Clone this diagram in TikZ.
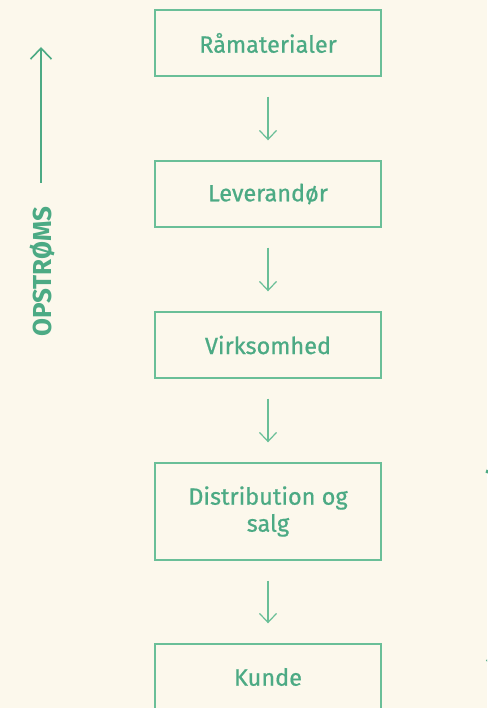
\documentclass[tikz,border=0pt]{standalone}
\usepackage{fontspec}
\setmainfont{Fira Sans}
\newfontfamily\medfont{Fira Sans}[FakeBold=0.7]
\usetikzlibrary{arrows.meta}
\definecolor{bg}{HTML}{FCF8EC}
\definecolor{txt}{HTML}{4CAA84}
\definecolor{edge}{HTML}{6ABF98}
\tikzset{
  stagebox/.style={draw=edge, line width=1.4pt, minimum width=226pt, align=center, text=txt, font=\medfont\fontsize{23.5}{27}\selectfont, inner sep=0pt},
  flow/.style={draw=edge, line width=1.2pt, -{Straight Barb[length=9pt,width=17pt,line width=1.2pt]}},
  sidearrow/.style={draw=txt, line width=1.6pt, -{Straight Barb[length=11pt,width=21pt,line width=1.6pt]}},
  sidelabel/.style={text=txt, font=\bfseries\fontsize{26}{26}\selectfont, inner sep=0pt}
}
\begin{document}
\begin{tikzpicture}[x=1pt,y=-1pt]
\fill[bg] (0,0) rectangle (487,708);
\useasboundingbox (0,0) rectangle (487,708);
\clip (0,0) rectangle (487,708);
\node[stagebox, minimum height=66pt] (b1) at (268,43) {Råmaterialer};
\node[stagebox, minimum height=66pt] (b2) at (268,194) {Leverandør};
\node[stagebox, minimum height=66pt] (b3) at (268,345) {Virksomhed};
\node[stagebox, minimum height=97pt] (b4) at (268,511.5) {Distribution og\\salg};
\node[stagebox, minimum height=66pt] (b5) at (268,677) {Kunde};
\draw[flow] ([yshift=-20pt]b1.south) -- ([yshift=20pt]b2.north);
\draw[flow] ([yshift=-20pt]b2.south) -- ([yshift=20pt]b3.north);
\draw[flow] ([yshift=-20pt]b3.south) -- ([yshift=20pt]b4.north);
\draw[flow] ([yshift=-20pt]b4.south) -- ([yshift=20pt]b5.north);
\node[sidelabel, rotate=90] (up) at (42,272) {OPSTRØMS};
\coordinate (upbot) at (41,183);
\coordinate (uptop) at (41,47);
\draw[sidearrow] (upbot) -- (uptop);
\node[sidelabel, rotate=-90] (down) at (499,447) {NEDSTRØMS};
\coordinate (downtop) at (497,535);
\coordinate (downend) at (497,672);
\draw[sidearrow] (downtop) -- (downend);
\end{tikzpicture}
\end{document}
